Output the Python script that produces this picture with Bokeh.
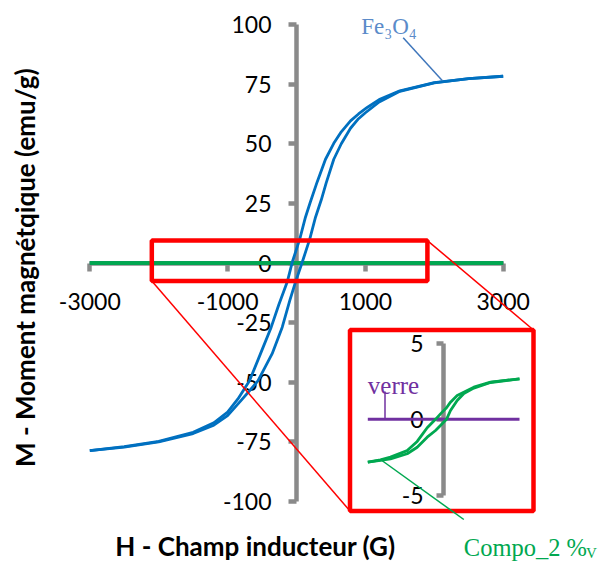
import math
from bokeh.plotting import figure
from bokeh.models import Range1d, LinearAxis, FixedTicker, Label
from bokeh.embed import file_html
from bokeh.resources import INLINE

# ---------------- data ----------------
# Fe3O4 hysteresis loop, descending branch (H from +3000 to -3000)
fe_desc_H = [3000, 2500, 2000, 1500, 1200, 1026, 900, 784, 650, 541, 421, 300, 200, 130, 48,
             -62, -135, -257, -367, -522, -682, -850, -1000, -1200, -1500, -2000, -2500, -3000]
fe_desc_M = [78.3, 77.3, 75.6, 72.2, 68.5, 65.2, 62.5, 59.6, 55.0, 50.2, 43.5, 34.0, 25.5, 19.2, 10.1,
             0.3, -8.0, -17.5, -26.9, -38.0, -49.4, -57.0, -62.5, -67.0, -71.0, -74.8, -77.0, -78.7]
# Fe3O4 ascending branch (H from -3000 to +3000)
fe_asc_H = [-3000, -2500, -2000, -1500, -1200, -1000, -800, -650, -560, -353, -207, -97, -15, 83,
            193, 276, 360, 430, 541, 650, 784, 900, 1000, 1200, 1500, 2000, 2500, 3000]
fe_asc_M = [-78.7, -77.2, -75.0, -71.5, -68.0, -64.0, -57.5, -52.5, -49.4, -38.0, -26.9, -15.7, -8.0, 0.3,
            10.1, 19.2, 26.5, 33.5, 43.5, 50.0, 56.5, 60.5, 63.0, 67.5, 72.0, 75.5, 77.3, 78.3]

# Compo_2 %V loop (inset units)
compo_desc_H = [3000, 1853, 1193, 535, 271, 113, -125, -322, -651, -850, -1046, -1442, -2103, -2500, -3000]
compo_desc_M = [2.66, 2.44, 2.11, 1.57, 1.13, 0.76, 0.36, 0.0, -0.55, -1.0, -1.45, -2.05, -2.48, -2.66, -2.81]
compo_asc_H = [-3000, -2500, -2103, -1442, -1046, -651, -322, -125, 113, 271, 535, 800, 1193, 1853, 3000]
compo_asc_M = [-2.81, -2.7, -2.59, -2.26, -1.83, -1.17, -0.73, -0.4, 0.0, 0.58, 1.24, 1.7, 2.05, 2.42, 2.66]

# verre (glass substrate): flat
verre_H = [-3000, 3000]
verre_M = [0.0, 0.0]

main_x_ticks = [-3000, -1000, 1000, 3000]
main_y_ticks = [-100, -75, -50, -25, 0, 25, 50, 75, 100]
inset_y_ticks = [-5, 0, 5]
zoom_box = (-2100, 1900, -7.5, 9.4)   # left, right, bottom, top (main units)

x_title = "H - Champ inducteur (G)"
y_title = "M - Moment magnétqique  (emu/g)"

# ---------------- layout ----------------
W, H = 600, 562
OX, OY = 0, 0          # canvas offset in the page


def lin(p0, v0, p1, v1):
    k = (v1 - v0) / (p1 - p0)
    return (lambda p: v0 + (p - p0) * k), (lambda v: p0 + (v - v0) / k)


# pixel positions of reference ticks (page coordinates)
mx, mx_px = lin(89.3, -3000, 502.7, 3000)
my, my_px = lin(24.0, 100, 501.0, -100)
ix, ix_px = lin(367.3, -3000, 519.0, 3000)
iy, iy_px = lin(342.7, 5, 495.0, -5)

GRAY = "#8a8a8a"
BLUE = "#0070c0"
GREEN = "#00a850"
PURPLE = "#7030a0"
RED = "#ff0000"
TICK_FONT = "Lato"
SERIF = "Liberation Serif"

p = figure(width=W, height=H, output_backend="svg", toolbar_location=None,
           x_range=Range1d(mx(OX), mx(OX + W)), y_range=Range1d(my(OY + H), my(OY)),
           min_border=0)
p.title.visible = False
p.xaxis.visible = False
p.yaxis.visible = False
p.xgrid.visible = False
p.ygrid.visible = False
p.outline_line_color = None
p.background_fill_color = "white"
p.border_fill_color = "white"

p.extra_x_ranges = {"inset": Range1d(ix(OX), ix(OX + W))}
p.extra_y_ranges = {
    "inset": Range1d(iy(OY + H), iy(OY)),
    # composite plotted on the main chart in 0.01 emu/g units -> looks flat
    "compo_main": Range1d(my(OY + H) * 100, my(OY) * 100),
}


def style_axis(ax, ticks, tick_out, standoff):
    ax.axis_line_color = GRAY
    ax.axis_line_width = 4.5
    ax.major_tick_line_color = GRAY
    ax.major_tick_line_width = 4.5
    ax.major_tick_out = tick_out
    ax.major_tick_in = 0
    ax.minor_tick_line_color = None
    ax.major_label_text_font = TICK_FONT
    ax.major_label_text_font_size = "23px"
    ax.major_label_text_color = "black"
    ax.major_label_standoff = standoff
    ax.major_label_overrides = {t: str(t) for t in ticks}
    ax.level = "underlay"


xa = LinearAxis(fixed_location=0, ticker=FixedTicker(ticks=main_x_ticks), bounds=(-3000, 3000))
style_axis(xa, main_x_ticks, 8, 22)
p.add_layout(xa, "below")

ya = LinearAxis(fixed_location=0, ticker=FixedTicker(ticks=main_y_ticks), bounds=(-100, 100))
style_axis(ya, main_y_ticks, 8, 17)
p.add_layout(ya, "left")

# ---- main chart series ----
p.line(verre_H, verre_M, line_color=PURPLE, line_width=3.5)
p.line(compo_desc_H, compo_desc_M, y_range_name="compo_main", line_color=GREEN, line_width=3.5)
p.line(compo_asc_H, compo_asc_M, y_range_name="compo_main", line_color=GREEN, line_width=3.5)
p.line(fe_desc_H, fe_desc_M, line_color=BLUE, line_width=2.8, line_join="round")
p.line(fe_asc_H, fe_asc_M, line_color=BLUE, line_width=2.8, line_join="round")

# zoom box on main chart
zl, zr, zb, zt = zoom_box
p.quad(left=[zl], right=[zr], bottom=[zb], top=[zt], fill_color=None, line_color=RED, line_width=4.5)

# inset box (page pixels -> inset units)
ib_l, ib_r, ib_t, ib_b = 349.5, 533.0, 329.5, 510.5
p.quad(left=[ix(ib_l)], right=[ix(ib_r)], bottom=[iy(ib_b)], top=[iy(ib_t)],
       x_range_name="inset", y_range_name="inset",
       fill_color=None, line_color=RED, line_width=4.5)

# connectors (main units)
p.segment(x0=[zr, zl], y0=[zt, zb], x1=[mx(ib_r), mx(ib_l)], y1=[my(ib_t), my(ib_b)],
          line_color=RED, line_width=1.5)

# inset axis + series
ia = LinearAxis(x_range_name="inset", y_range_name="inset", fixed_location=0,
                ticker=FixedTicker(ticks=inset_y_ticks), bounds=(-5, 5))
style_axis(ia, inset_y_ticks, 7, 13)
p.add_layout(ia, "left")

p.line(verre_H, verre_M, x_range_name="inset", y_range_name="inset", line_color=PURPLE, line_width=3)
p.line(compo_desc_H, compo_desc_M, x_range_name="inset", y_range_name="inset",
       line_color=GREEN, line_width=2.8, line_join="round")
p.line(compo_asc_H, compo_asc_M, x_range_name="inset", y_range_name="inset",
       line_color=GREEN, line_width=2.8, line_join="round")


# ---- annotations (labels with leader lines) ----
def label(px, py, text, color, size, font=SERIF, style="normal", align="left", baseline="alphabetic", angle=0.0):
    p.add_layout(Label(x=mx(px), y=my(py), text=text, text_color=color, text_font=font,
                       text_font_size=size, text_font_style=style, text_align=align,
                       text_baseline=baseline, angle=angle))


def leader(p0, p1, color):
    p.segment(x0=[mx(p0[0])], y0=[my(p0[1])], x1=[mx(p1[0])], y1=[my(p1[1])],
              line_color=color, line_width=1.5)


label(360.7, 26.0, "Fe₃O₄", "#5b8bc9", "23px")
leader((402.7, 37.3), (441.7, 80.0), "#3f76bb")

label(367.3, 385.0, "verre", PURPLE, "25px")
leader((384.5, 391.0), (384.5, 419.0), PURPLE)

label(463.3, 546.7, "Compo_2 %", GREEN, "24.5px")
label(585.5, 552.5, "V", GREEN, "15px")
leader((380.0, 459.0), (463.3, 519.0), GREEN)

# axis titles
label(255.0, 545.0, x_title, "black", "26px", font="Lato", style="bold", align="center", baseline="middle")
label(24.0, 264.0, y_title, "black", "26px", font="Lato", style="bold", align="center", baseline="middle",
      angle=math.pi / 2)

open("out.html", "w").write(file_html(p, INLINE))
